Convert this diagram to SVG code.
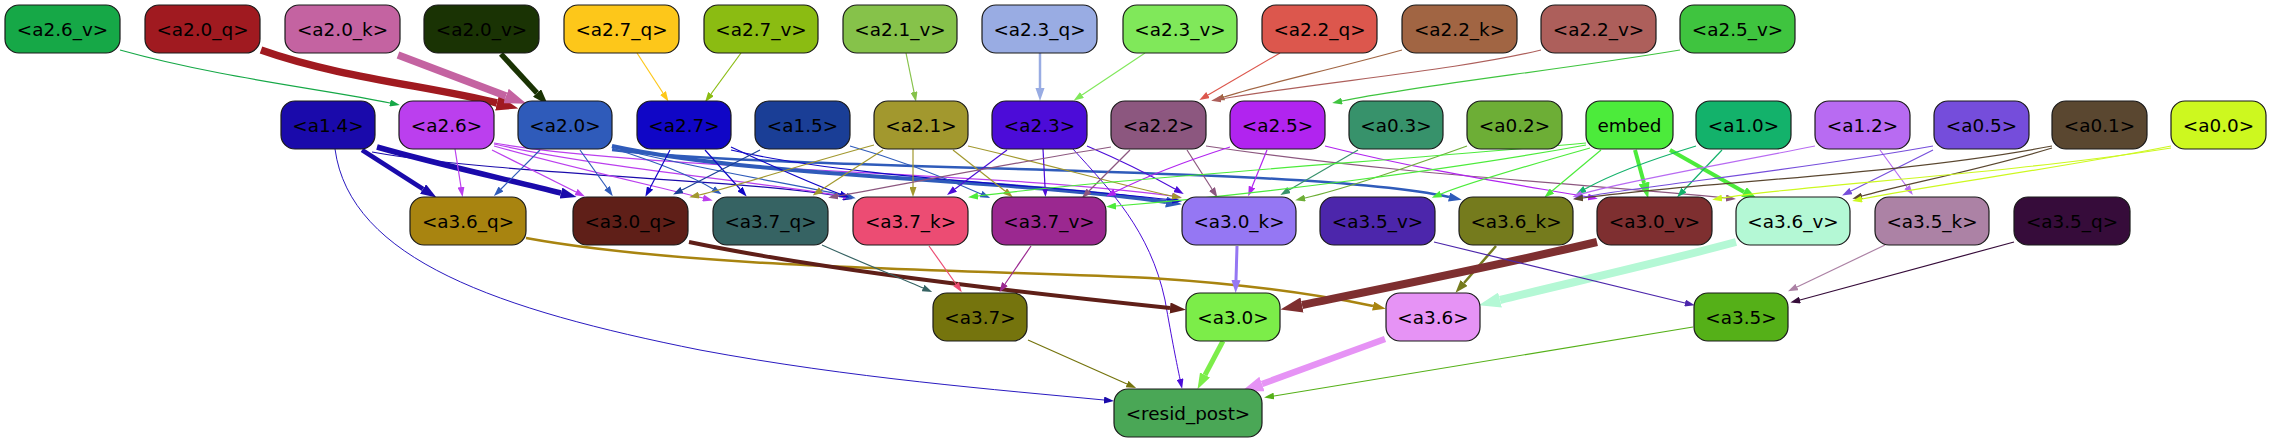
<svg xmlns="http://www.w3.org/2000/svg" width="2271" height="443" viewBox="0 0 2271 443">
<style>
.n rect{stroke:#1a1a1a;stroke-width:1.2}
.n text{font-family:"DejaVu Sans","Liberation Sans",sans-serif;font-size:18.4px;fill:#000;text-anchor:middle}
.e path{fill:none}
</style>
<defs>
<marker id="m1-16a847" viewBox="0 0 10 7" refX="0" refY="3.5" markerWidth="10" markerHeight="7" markerUnits="userSpaceOnUse" orient="auto"><path d="M0,0L10,3.5L0,7z" fill="#16a847"/></marker>
<marker id="m1-fdc71a" viewBox="0 0 10 7" refX="0" refY="3.5" markerWidth="10" markerHeight="7" markerUnits="userSpaceOnUse" orient="auto"><path d="M0,0L10,3.5L0,7z" fill="#fdc71a"/></marker>
<marker id="m1-8bbc12" viewBox="0 0 10 7" refX="0" refY="3.5" markerWidth="10" markerHeight="7" markerUnits="userSpaceOnUse" orient="auto"><path d="M0,0L10,3.5L0,7z" fill="#8bbc12"/></marker>
<marker id="m1-86c24a" viewBox="0 0 10 7" refX="0" refY="3.5" markerWidth="10" markerHeight="7" markerUnits="userSpaceOnUse" orient="auto"><path d="M0,0L10,3.5L0,7z" fill="#86c24a"/></marker>
<marker id="m1-80e85a" viewBox="0 0 10 7" refX="0" refY="3.5" markerWidth="10" markerHeight="7" markerUnits="userSpaceOnUse" orient="auto"><path d="M0,0L10,3.5L0,7z" fill="#80e85a"/></marker>
<marker id="m1-dc574d" viewBox="0 0 10 7" refX="0" refY="3.5" markerWidth="10" markerHeight="7" markerUnits="userSpaceOnUse" orient="auto"><path d="M0,0L10,3.5L0,7z" fill="#dc574d"/></marker>
<marker id="m1-a16543" viewBox="0 0 10 7" refX="0" refY="3.5" markerWidth="10" markerHeight="7" markerUnits="userSpaceOnUse" orient="auto"><path d="M0,0L10,3.5L0,7z" fill="#a16543"/></marker>
<marker id="m1-ad5f5b" viewBox="0 0 10 7" refX="0" refY="3.5" markerWidth="10" markerHeight="7" markerUnits="userSpaceOnUse" orient="auto"><path d="M0,0L10,3.5L0,7z" fill="#ad5f5b"/></marker>
<marker id="m1-3fc43f" viewBox="0 0 10 7" refX="0" refY="3.5" markerWidth="10" markerHeight="7" markerUnits="userSpaceOnUse" orient="auto"><path d="M0,0L10,3.5L0,7z" fill="#3fc43f"/></marker>
<marker id="m1-1a0aab" viewBox="0 0 10 7" refX="0" refY="3.5" markerWidth="10" markerHeight="7" markerUnits="userSpaceOnUse" orient="auto"><path d="M0,0L10,3.5L0,7z" fill="#1a0aab"/></marker>
<marker id="m1-bb3fee" viewBox="0 0 10 7" refX="0" refY="3.5" markerWidth="10" markerHeight="7" markerUnits="userSpaceOnUse" orient="auto"><path d="M0,0L10,3.5L0,7z" fill="#bb3fee"/></marker>
<marker id="m1-2f5bba" viewBox="0 0 10 7" refX="0" refY="3.5" markerWidth="10" markerHeight="7" markerUnits="userSpaceOnUse" orient="auto"><path d="M0,0L10,3.5L0,7z" fill="#2f5bba"/></marker>
<marker id="m1-1006c6" viewBox="0 0 10 7" refX="0" refY="3.5" markerWidth="10" markerHeight="7" markerUnits="userSpaceOnUse" orient="auto"><path d="M0,0L10,3.5L0,7z" fill="#1006c6"/></marker>
<marker id="m1-1a3e96" viewBox="0 0 10 7" refX="0" refY="3.5" markerWidth="10" markerHeight="7" markerUnits="userSpaceOnUse" orient="auto"><path d="M0,0L10,3.5L0,7z" fill="#1a3e96"/></marker>
<marker id="m1-a2982e" viewBox="0 0 10 7" refX="0" refY="3.5" markerWidth="10" markerHeight="7" markerUnits="userSpaceOnUse" orient="auto"><path d="M0,0L10,3.5L0,7z" fill="#a2982e"/></marker>
<marker id="m1-4c0cd8" viewBox="0 0 10 7" refX="0" refY="3.5" markerWidth="10" markerHeight="7" markerUnits="userSpaceOnUse" orient="auto"><path d="M0,0L10,3.5L0,7z" fill="#4c0cd8"/></marker>
<marker id="m1-8c577f" viewBox="0 0 10 7" refX="0" refY="3.5" markerWidth="10" markerHeight="7" markerUnits="userSpaceOnUse" orient="auto"><path d="M0,0L10,3.5L0,7z" fill="#8c577f"/></marker>
<marker id="m1-b124ef" viewBox="0 0 10 7" refX="0" refY="3.5" markerWidth="10" markerHeight="7" markerUnits="userSpaceOnUse" orient="auto"><path d="M0,0L10,3.5L0,7z" fill="#b124ef"/></marker>
<marker id="m1-37926b" viewBox="0 0 10 7" refX="0" refY="3.5" markerWidth="10" markerHeight="7" markerUnits="userSpaceOnUse" orient="auto"><path d="M0,0L10,3.5L0,7z" fill="#37926b"/></marker>
<marker id="m1-6dae36" viewBox="0 0 10 7" refX="0" refY="3.5" markerWidth="10" markerHeight="7" markerUnits="userSpaceOnUse" orient="auto"><path d="M0,0L10,3.5L0,7z" fill="#6dae36"/></marker>
<marker id="m1-4ceb3b" viewBox="0 0 10 7" refX="0" refY="3.5" markerWidth="10" markerHeight="7" markerUnits="userSpaceOnUse" orient="auto"><path d="M0,0L10,3.5L0,7z" fill="#4ceb3b"/></marker>
<marker id="m1-13b26b" viewBox="0 0 10 7" refX="0" refY="3.5" markerWidth="10" markerHeight="7" markerUnits="userSpaceOnUse" orient="auto"><path d="M0,0L10,3.5L0,7z" fill="#13b26b"/></marker>
<marker id="m1-b86bf2" viewBox="0 0 10 7" refX="0" refY="3.5" markerWidth="10" markerHeight="7" markerUnits="userSpaceOnUse" orient="auto"><path d="M0,0L10,3.5L0,7z" fill="#b86bf2"/></marker>
<marker id="m1-754ddb" viewBox="0 0 10 7" refX="0" refY="3.5" markerWidth="10" markerHeight="7" markerUnits="userSpaceOnUse" orient="auto"><path d="M0,0L10,3.5L0,7z" fill="#754ddb"/></marker>
<marker id="m1-5a4730" viewBox="0 0 10 7" refX="0" refY="3.5" markerWidth="10" markerHeight="7" markerUnits="userSpaceOnUse" orient="auto"><path d="M0,0L10,3.5L0,7z" fill="#5a4730"/></marker>
<marker id="m1-cdf81f" viewBox="0 0 10 7" refX="0" refY="3.5" markerWidth="10" markerHeight="7" markerUnits="userSpaceOnUse" orient="auto"><path d="M0,0L10,3.5L0,7z" fill="#cdf81f"/></marker>
<marker id="m1-366363" viewBox="0 0 10 7" refX="0" refY="3.5" markerWidth="10" markerHeight="7" markerUnits="userSpaceOnUse" orient="auto"><path d="M0,0L10,3.5L0,7z" fill="#366363"/></marker>
<marker id="m1-ec4c73" viewBox="0 0 10 7" refX="0" refY="3.5" markerWidth="10" markerHeight="7" markerUnits="userSpaceOnUse" orient="auto"><path d="M0,0L10,3.5L0,7z" fill="#ec4c73"/></marker>
<marker id="m1-9b2890" viewBox="0 0 10 7" refX="0" refY="3.5" markerWidth="10" markerHeight="7" markerUnits="userSpaceOnUse" orient="auto"><path d="M0,0L10,3.5L0,7z" fill="#9b2890"/></marker>
<marker id="m1-4c26ab" viewBox="0 0 10 7" refX="0" refY="3.5" markerWidth="10" markerHeight="7" markerUnits="userSpaceOnUse" orient="auto"><path d="M0,0L10,3.5L0,7z" fill="#4c26ab"/></marker>
<marker id="m1-ac82a5" viewBox="0 0 10 7" refX="0" refY="3.5" markerWidth="10" markerHeight="7" markerUnits="userSpaceOnUse" orient="auto"><path d="M0,0L10,3.5L0,7z" fill="#ac82a5"/></marker>
<marker id="m1-360c3a" viewBox="0 0 10 7" refX="0" refY="3.5" markerWidth="10" markerHeight="7" markerUnits="userSpaceOnUse" orient="auto"><path d="M0,0L10,3.5L0,7z" fill="#360c3a"/></marker>
<marker id="m1-75740d" viewBox="0 0 10 7" refX="0" refY="3.5" markerWidth="10" markerHeight="7" markerUnits="userSpaceOnUse" orient="auto"><path d="M0,0L10,3.5L0,7z" fill="#75740d"/></marker>
<marker id="m1-55b018" viewBox="0 0 10 7" refX="0" refY="3.5" markerWidth="10" markerHeight="7" markerUnits="userSpaceOnUse" orient="auto"><path d="M0,0L10,3.5L0,7z" fill="#55b018"/></marker>
<marker id="m2-99ace3" viewBox="0 0 10 7" refX="0" refY="3.5" markerWidth="13" markerHeight="9.1" markerUnits="userSpaceOnUse" orient="auto"><path d="M0,0L10,3.5L0,7z" fill="#99ace3"/></marker>
<marker id="m2-2f5bba" viewBox="0 0 10 7" refX="0" refY="3.5" markerWidth="13" markerHeight="9.1" markerUnits="userSpaceOnUse" orient="auto"><path d="M0,0L10,3.5L0,7z" fill="#2f5bba"/></marker>
<marker id="m2-a88410" viewBox="0 0 10 7" refX="0" refY="3.5" markerWidth="13" markerHeight="9.1" markerUnits="userSpaceOnUse" orient="auto"><path d="M0,0L10,3.5L0,7z" fill="#a88410"/></marker>
<marker id="m2-9577f3" viewBox="0 0 10 7" refX="0" refY="3.5" markerWidth="13" markerHeight="9.1" markerUnits="userSpaceOnUse" orient="auto"><path d="M0,0L10,3.5L0,7z" fill="#9577f3"/></marker>
<marker id="m2-757b1d" viewBox="0 0 10 7" refX="0" refY="3.5" markerWidth="13" markerHeight="9.1" markerUnits="userSpaceOnUse" orient="auto"><path d="M0,0L10,3.5L0,7z" fill="#757b1d"/></marker>
<marker id="m3-1a3304" viewBox="0 0 10 7" refX="0" refY="3.5" markerWidth="16" markerHeight="11.2" markerUnits="userSpaceOnUse" orient="auto"><path d="M0,0L10,3.5L0,7z" fill="#1a3304"/></marker>
<marker id="m3-1a0aab" viewBox="0 0 10 7" refX="0" refY="3.5" markerWidth="16" markerHeight="11.2" markerUnits="userSpaceOnUse" orient="auto"><path d="M0,0L10,3.5L0,7z" fill="#1a0aab"/></marker>
<marker id="m3-2f5bba" viewBox="0 0 10 7" refX="0" refY="3.5" markerWidth="16" markerHeight="11.2" markerUnits="userSpaceOnUse" orient="auto"><path d="M0,0L10,3.5L0,7z" fill="#2f5bba"/></marker>
<marker id="m3-4ceb3b" viewBox="0 0 10 7" refX="0" refY="3.5" markerWidth="16" markerHeight="11.2" markerUnits="userSpaceOnUse" orient="auto"><path d="M0,0L10,3.5L0,7z" fill="#4ceb3b"/></marker>
<marker id="m3-5f1f18" viewBox="0 0 10 7" refX="0" refY="3.5" markerWidth="16" markerHeight="11.2" markerUnits="userSpaceOnUse" orient="auto"><path d="M0,0L10,3.5L0,7z" fill="#5f1f18"/></marker>
<marker id="m3-7ced49" viewBox="0 0 10 7" refX="0" refY="3.5" markerWidth="16" markerHeight="11.2" markerUnits="userSpaceOnUse" orient="auto"><path d="M0,0L10,3.5L0,7z" fill="#7ced49"/></marker>
<marker id="m4-a01a20" viewBox="0 0 10 7" refX="0" refY="3.5" markerWidth="22" markerHeight="15.4" markerUnits="userSpaceOnUse" orient="auto"><path d="M0,0L10,3.5L0,7z" fill="#a01a20"/></marker>
<marker id="m4-c463a1" viewBox="0 0 10 7" refX="0" refY="3.5" markerWidth="22" markerHeight="15.4" markerUnits="userSpaceOnUse" orient="auto"><path d="M0,0L10,3.5L0,7z" fill="#c463a1"/></marker>
<marker id="m4-7e2f30" viewBox="0 0 10 7" refX="0" refY="3.5" markerWidth="22" markerHeight="15.4" markerUnits="userSpaceOnUse" orient="auto"><path d="M0,0L10,3.5L0,7z" fill="#7e2f30"/></marker>
<marker id="m4-b4f8d5" viewBox="0 0 10 7" refX="0" refY="3.5" markerWidth="22" markerHeight="15.4" markerUnits="userSpaceOnUse" orient="auto"><path d="M0,0L10,3.5L0,7z" fill="#b4f8d5"/></marker>
<marker id="m4-e693f5" viewBox="0 0 10 7" refX="0" refY="3.5" markerWidth="22" markerHeight="15.4" markerUnits="userSpaceOnUse" orient="auto"><path d="M0,0L10,3.5L0,7z" fill="#e693f5"/></marker>
</defs>
<g id="edges" class="e">
<path d="M120,50 C220,78 330,90 390,103" stroke="#16a847" stroke-width="1.2" marker-end="url(#m1-16a847)"/>
<path d="M261,50 C340,78 430,86 497,103" stroke="#a01a20" stroke-width="7.5" marker-end="url(#m4-a01a20)"/>
<path d="M398,55 L506,96" stroke="#c463a1" stroke-width="7.5" marker-end="url(#m4-c463a1)"/>
<path d="M501,54 L537,93" stroke="#1a3304" stroke-width="5.5" marker-end="url(#m3-1a3304)"/>
<path d="M637,53 L663,93" stroke="#fdc71a" stroke-width="1.2" marker-end="url(#m1-fdc71a)"/>
<path d="M741,53 L711,94" stroke="#8bbc12" stroke-width="1.2" marker-end="url(#m1-8bbc12)"/>
<path d="M906,53 L914,92" stroke="#86c24a" stroke-width="1.2" marker-end="url(#m1-86c24a)"/>
<path d="M1040,53 L1040,88" stroke="#99ace3" stroke-width="2.5" marker-end="url(#m2-99ace3)"/>
<path d="M1145,53 L1082,95" stroke="#80e85a" stroke-width="1.2" marker-end="url(#m1-80e85a)"/>
<path d="M1280,53 L1208,95" stroke="#dc574d" stroke-width="1.2" marker-end="url(#m1-dc574d)"/>
<path d="M1402,50 C1330,70 1260,85 1224,97" stroke="#a16543" stroke-width="1.2" marker-end="url(#m1-a16543)"/>
<path d="M1541,50 C1460,70 1320,82 1221,99" stroke="#ad5f5b" stroke-width="1.2" marker-end="url(#m1-ad5f5b)"/>
<path d="M1680,50 C1560,70 1420,85 1342,101" stroke="#3fc43f" stroke-width="1.2" marker-end="url(#m1-3fc43f)"/>
<path d="M362,150 L423,189" stroke="#1a0aab" stroke-width="4.5" marker-end="url(#m3-1a0aab)"/>
<path d="M377,147 C440,165 510,180 561,193" stroke="#1a0aab" stroke-width="5.5" marker-end="url(#m3-1a0aab)"/>
<path d="M372,152 C500,175 760,180 843,197" stroke="#1a0aab" stroke-width="1.2" marker-end="url(#m1-1a0aab)"/>
<path d="M335,149 C350,260 500,310 700,350 C850,378 1000,390 1104,400" stroke="#2a1ac0" stroke-width="1" marker-end="url(#m1-1a0aab)"/>
<path d="M455,149 L461,187" stroke="#bb3fee" stroke-width="1.2" marker-end="url(#m1-bb3fee)"/>
<path d="M492,150 L576,192" stroke="#bb3fee" stroke-width="1.2" marker-end="url(#m1-bb3fee)"/>
<path d="M494,146 C560,165 650,185 703,198" stroke="#bb3fee" stroke-width="1.2" marker-end="url(#m1-bb3fee)"/>
<path d="M494,144 C600,168 760,182 843,196" stroke="#bb3fee" stroke-width="1.2" marker-end="url(#m1-bb3fee)"/>
<path d="M494,143 C650,170 1000,172 1172,196" stroke="#bb3fee" stroke-width="1.2" marker-end="url(#m1-bb3fee)"/>
<path d="M540,150 L501,189" stroke="#2f5bba" stroke-width="1.2" marker-end="url(#m1-2f5bba)"/>
<path d="M580,150 L607,188" stroke="#2f5bba" stroke-width="1.2" marker-end="url(#m1-2f5bba)"/>
<path d="M612,148 C650,160 690,175 713,189" stroke="#2f5bba" stroke-width="1.2" marker-end="url(#m1-2f5bba)"/>
<path d="M612,147 C700,170 800,185 846,196" stroke="#2f5bba" stroke-width="1.2" marker-end="url(#m1-2f5bba)"/>
<path d="M612,146 C760,178 1000,178 1166,202" stroke="#2f5bba" stroke-width="4" marker-end="url(#m3-2f5bba)"/>
<path d="M612,150 C800,172 1300,165 1449,197" stroke="#2f5bba" stroke-width="2.5" marker-end="url(#m2-2f5bba)"/>
<path d="M670,150 L650,188" stroke="#1006c6" stroke-width="1.2" marker-end="url(#m1-1006c6)"/>
<path d="M705,150 L740,189" stroke="#1006c6" stroke-width="1.2" marker-end="url(#m1-1006c6)"/>
<path d="M731,147 C770,165 815,185 840,194" stroke="#1006c6" stroke-width="1.2" marker-end="url(#m1-1006c6)"/>
<path d="M731,150 C850,178 1050,185 1172,200" stroke="#1006c6" stroke-width="1.2" marker-end="url(#m1-1006c6)"/>
<path d="M760,150 L682,190" stroke="#1a3e96" stroke-width="1.2" marker-end="url(#m1-1a3e96)"/>
<path d="M850,146 C900,160 950,180 981,194" stroke="#2f5bba" stroke-width="1.2" marker-end="url(#m1-2f5bba)"/>
<path d="M874,145 C800,165 740,185 699,195" stroke="#a2982e" stroke-width="1.2" marker-end="url(#m1-a2982e)"/>
<path d="M883,150 L821,190" stroke="#a2982e" stroke-width="1.2" marker-end="url(#m1-a2982e)"/>
<path d="M913,149 L913,187" stroke="#a2982e" stroke-width="1.2" marker-end="url(#m1-a2982e)"/>
<path d="M953,150 L1005,191" stroke="#a2982e" stroke-width="1.2" marker-end="url(#m1-a2982e)"/>
<path d="M968,146 C1050,165 1120,185 1172,196" stroke="#a2982e" stroke-width="1.2" marker-end="url(#m1-a2982e)"/>
<path d="M1007,150 L955,189" stroke="#4c0cd8" stroke-width="1.2" marker-end="url(#m1-4c0cd8)"/>
<path d="M1043,149 L1045,187" stroke="#4c0cd8" stroke-width="1.2" marker-end="url(#m1-4c0cd8)"/>
<path d="M1087,146 C1120,160 1150,175 1175,189" stroke="#4c0cd8" stroke-width="1.2" marker-end="url(#m1-4c0cd8)"/>
<path d="M1073,149 C1110,190 1150,230 1165,300 C1172,340 1177,365 1180,379" stroke="#4c0cd8" stroke-width="1" marker-end="url(#m1-4c0cd8)"/>
<path d="M1111,147 C1000,165 900,185 838,196" stroke="#8c577f" stroke-width="1.2" marker-end="url(#m1-8c577f)"/>
<path d="M1130,150 L1089,191" stroke="#8c577f" stroke-width="1.2" marker-end="url(#m1-8c577f)"/>
<path d="M1187,150 L1212,189" stroke="#8c577f" stroke-width="1.2" marker-end="url(#m1-8c577f)"/>
<path d="M1206,146 C1400,175 1600,185 1726,198" stroke="#8c577f" stroke-width="1.2" marker-end="url(#m1-8c577f)"/>
<path d="M1267,150 L1252,187" stroke="#b124ef" stroke-width="1.2" marker-end="url(#m1-b124ef)"/>
<path d="M1230,147 C1180,163 1145,177 1115,192" stroke="#b124ef" stroke-width="1.2" marker-end="url(#m1-b124ef)"/>
<path d="M1325,146 C1420,170 1520,185 1588,197" stroke="#b124ef" stroke-width="1.2" marker-end="url(#m1-b124ef)"/>
<path d="M1358,150 L1289,190" stroke="#37926b" stroke-width="1.2" marker-end="url(#m1-37926b)"/>
<path d="M1467,146 C1400,170 1340,190 1305,198" stroke="#6dae36" stroke-width="1.2" marker-end="url(#m1-6dae36)"/>
<path d="M1590,148 C1530,165 1470,182 1441,194" stroke="#4ceb3b" stroke-width="1.2" marker-end="url(#m1-4ceb3b)"/>
<path d="M1601,150 L1552,191" stroke="#4ceb3b" stroke-width="1.2" marker-end="url(#m1-4ceb3b)"/>
<path d="M1635,150 L1644,183" stroke="#4ceb3b" stroke-width="4" marker-end="url(#m3-4ceb3b)"/>
<path d="M1670,150 L1744,192" stroke="#4ceb3b" stroke-width="4" marker-end="url(#m3-4ceb3b)"/>
<path d="M1586,145 C1450,170 1250,195 1116,206" stroke="#4ceb3b" stroke-width="1.2" marker-end="url(#m1-4ceb3b)"/>
<path d="M1586,143 C1400,160 1100,180 978,196" stroke="#4ceb3b" stroke-width="1.2" marker-end="url(#m1-4ceb3b)"/>
<path d="M1722,150 L1684,190" stroke="#13b26b" stroke-width="1.2" marker-end="url(#m1-13b26b)"/>
<path d="M1696,146 C1650,160 1610,175 1585,189" stroke="#13b26b" stroke-width="1.2" marker-end="url(#m1-13b26b)"/>
<path d="M1880,150 L1907,187" stroke="#b86bf2" stroke-width="1.2" marker-end="url(#m1-b86bf2)"/>
<path d="M1815,146 C1720,165 1620,182 1582,194" stroke="#b86bf2" stroke-width="1.2" marker-end="url(#m1-b86bf2)"/>
<path d="M1933,150 L1851,191" stroke="#754ddb" stroke-width="1.2" marker-end="url(#m1-754ddb)"/>
<path d="M1933,146 C1800,170 1650,185 1583,197" stroke="#754ddb" stroke-width="1.2" marker-end="url(#m1-754ddb)"/>
<path d="M2052,148 C1980,170 1900,185 1862,196" stroke="#5a4730" stroke-width="1.2" marker-end="url(#m1-5a4730)"/>
<path d="M2052,146 C1900,175 1700,182 1583,198" stroke="#5a4730" stroke-width="1.2" marker-end="url(#m1-5a4730)"/>
<path d="M2171,146 C2050,170 1930,185 1862,199" stroke="#cdf81f" stroke-width="1.2" marker-end="url(#m1-cdf81f)"/>
<path d="M2171,148 C2000,175 1800,185 1722,198" stroke="#cdf81f" stroke-width="1.2" marker-end="url(#m1-cdf81f)"/>
<path d="M526,238 C700,270 1000,270 1150,278 C1260,285 1330,297 1373,306" stroke="#a88410" stroke-width="2.5" marker-end="url(#m2-a88410)"/>
<path d="M689,242 C800,265 950,285 1170,308" stroke="#5f1f18" stroke-width="4" marker-end="url(#m3-5f1f18)"/>
<path d="M822,245 C860,262 900,278 923,288" stroke="#366363" stroke-width="1.2" marker-end="url(#m1-366363)"/>
<path d="M929,246 L956,284" stroke="#ec4c73" stroke-width="1.2" marker-end="url(#m1-ec4c73)"/>
<path d="M1031,246 L1005,284" stroke="#9b2890" stroke-width="1.2" marker-end="url(#m1-9b2890)"/>
<path d="M1237,246 L1236,280" stroke="#9577f3" stroke-width="3" marker-end="url(#m2-9577f3)"/>
<path d="M1496,246 L1464,283" stroke="#757b1d" stroke-width="2.5" marker-end="url(#m2-757b1d)"/>
<path d="M1597,242 C1500,265 1400,285 1302,305" stroke="#7e2f30" stroke-width="8" marker-end="url(#m4-7e2f30)"/>
<path d="M1736,242 C1650,265 1560,285 1500,300" stroke="#b4f8d5" stroke-width="8" marker-end="url(#m4-b4f8d5)"/>
<path d="M1434,242 C1530,265 1620,288 1685,303" stroke="#4c26ab" stroke-width="1.2" marker-end="url(#m1-4c26ab)"/>
<path d="M1885,245 L1797,287" stroke="#ac82a5" stroke-width="1.2" marker-end="url(#m1-ac82a5)"/>
<path d="M2014,242 L1800,300" stroke="#360c3a" stroke-width="1.2" marker-end="url(#m1-360c3a)"/>
<path d="M1028,340 L1127,384" stroke="#75740d" stroke-width="1.2" marker-end="url(#m1-75740d)"/>
<path d="M1223,341 L1205,375" stroke="#7ced49" stroke-width="5" marker-end="url(#m3-7ced49)"/>
<path d="M1385,339 L1262,384" stroke="#e693f5" stroke-width="6.5" marker-end="url(#m4-e693f5)"/>
<path d="M1693,327 L1274,396" stroke="#55b018" stroke-width="1.2" marker-end="url(#m1-55b018)"/>
</g>
<g id="n-a2_6_v" class="n"><rect x="5" y="5" width="115" height="48" rx="14" fill="#16a847"/><text x="62.5" y="35.5">&lt;a2.6_v&gt;</text></g>
<g id="n-a2_0_q" class="n"><rect x="145" y="5" width="115" height="48" rx="14" fill="#a01a20"/><text x="202.5" y="35.5">&lt;a2.0_q&gt;</text></g>
<g id="n-a2_0_k" class="n"><rect x="285" y="5" width="115" height="48" rx="14" fill="#c463a1"/><text x="342.5" y="35.5">&lt;a2.0_k&gt;</text></g>
<g id="n-a2_0_v" class="n"><rect x="424" y="5" width="115" height="48" rx="14" fill="#1a3304"/><text x="481.5" y="35.5">&lt;a2.0_v&gt;</text></g>
<g id="n-a2_7_q" class="n"><rect x="564" y="5" width="115" height="48" rx="14" fill="#fdc71a"/><text x="621.5" y="35.5">&lt;a2.7_q&gt;</text></g>
<g id="n-a2_7_v" class="n"><rect x="704" y="5" width="114" height="48" rx="14" fill="#8bbc12"/><text x="761" y="35.5">&lt;a2.7_v&gt;</text></g>
<g id="n-a2_1_v" class="n"><rect x="843" y="5" width="114" height="48" rx="14" fill="#86c24a"/><text x="900" y="35.5">&lt;a2.1_v&gt;</text></g>
<g id="n-a2_3_q" class="n"><rect x="982" y="5" width="115" height="48" rx="14" fill="#99ace3"/><text x="1039.5" y="35.5">&lt;a2.3_q&gt;</text></g>
<g id="n-a2_3_v" class="n"><rect x="1123" y="5" width="114" height="48" rx="14" fill="#80e85a"/><text x="1180" y="35.5">&lt;a2.3_v&gt;</text></g>
<g id="n-a2_2_q" class="n"><rect x="1262" y="5" width="115" height="48" rx="14" fill="#dc574d"/><text x="1319.5" y="35.5">&lt;a2.2_q&gt;</text></g>
<g id="n-a2_2_k" class="n"><rect x="1402" y="5" width="115" height="48" rx="14" fill="#a16543"/><text x="1459.5" y="35.5">&lt;a2.2_k&gt;</text></g>
<g id="n-a2_2_v" class="n"><rect x="1541" y="5" width="115" height="48" rx="14" fill="#ad5f5b"/><text x="1598.5" y="35.5">&lt;a2.2_v&gt;</text></g>
<g id="n-a2_5_v" class="n"><rect x="1680" y="5" width="115" height="48" rx="14" fill="#3fc43f"/><text x="1737.5" y="35.5">&lt;a2.5_v&gt;</text></g>
<g id="n-a1_4" class="n"><rect x="281" y="101" width="94" height="48" rx="14" fill="#1a0aab"/><text x="328" y="131.5">&lt;a1.4&gt;</text></g>
<g id="n-a2_6" class="n"><rect x="399" y="101" width="95" height="48" rx="14" fill="#bb3fee"/><text x="446.5" y="131.5">&lt;a2.6&gt;</text></g>
<g id="n-a2_0" class="n"><rect x="518" y="101" width="94" height="48" rx="14" fill="#2f5bba"/><text x="565" y="131.5">&lt;a2.0&gt;</text></g>
<g id="n-a2_7" class="n"><rect x="637" y="101" width="94" height="48" rx="14" fill="#1006c6"/><text x="684" y="131.5">&lt;a2.7&gt;</text></g>
<g id="n-a1_5" class="n"><rect x="755" y="101" width="95" height="48" rx="14" fill="#1a3e96"/><text x="802.5" y="131.5">&lt;a1.5&gt;</text></g>
<g id="n-a2_1" class="n"><rect x="874" y="101" width="94" height="48" rx="14" fill="#a2982e"/><text x="921" y="131.5">&lt;a2.1&gt;</text></g>
<g id="n-a2_3" class="n"><rect x="992" y="101" width="95" height="48" rx="14" fill="#4c0cd8"/><text x="1039.5" y="131.5">&lt;a2.3&gt;</text></g>
<g id="n-a2_2" class="n"><rect x="1111" y="101" width="95" height="48" rx="14" fill="#8c577f"/><text x="1158.5" y="131.5">&lt;a2.2&gt;</text></g>
<g id="n-a2_5" class="n"><rect x="1230" y="101" width="95" height="48" rx="14" fill="#b124ef"/><text x="1277.5" y="131.5">&lt;a2.5&gt;</text></g>
<g id="n-a0_3" class="n"><rect x="1349" y="101" width="94" height="48" rx="14" fill="#37926b"/><text x="1396" y="131.5">&lt;a0.3&gt;</text></g>
<g id="n-a0_2" class="n"><rect x="1467" y="101" width="95" height="48" rx="14" fill="#6dae36"/><text x="1514.5" y="131.5">&lt;a0.2&gt;</text></g>
<g id="n-embed" class="n"><rect x="1586" y="101" width="87" height="48" rx="14" fill="#4ceb3b"/><text x="1629.5" y="131.5">embed</text></g>
<g id="n-a1_0" class="n"><rect x="1696" y="101" width="95" height="48" rx="14" fill="#13b26b"/><text x="1743.5" y="131.5">&lt;a1.0&gt;</text></g>
<g id="n-a1_2" class="n"><rect x="1815" y="101" width="95" height="48" rx="14" fill="#b86bf2"/><text x="1862.5" y="131.5">&lt;a1.2&gt;</text></g>
<g id="n-a0_5" class="n"><rect x="1934" y="101" width="95" height="48" rx="14" fill="#754ddb"/><text x="1981.5" y="131.5">&lt;a0.5&gt;</text></g>
<g id="n-a0_1" class="n"><rect x="2052" y="101" width="95" height="48" rx="14" fill="#5a4730"/><text x="2099.5" y="131.5">&lt;a0.1&gt;</text></g>
<g id="n-a0_0" class="n"><rect x="2171" y="101" width="95" height="48" rx="14" fill="#cdf81f"/><text x="2218.5" y="131.5">&lt;a0.0&gt;</text></g>
<g id="n-a3_6_q" class="n"><rect x="410" y="197" width="116" height="48" rx="14" fill="#a88410"/><text x="468" y="227.5">&lt;a3.6_q&gt;</text></g>
<g id="n-a3_0_q" class="n"><rect x="573" y="197" width="115" height="48" rx="14" fill="#5f1f18"/><text x="630.5" y="227.5">&lt;a3.0_q&gt;</text></g>
<g id="n-a3_7_q" class="n"><rect x="713" y="197" width="115" height="48" rx="14" fill="#366363"/><text x="770.5" y="227.5">&lt;a3.7_q&gt;</text></g>
<g id="n-a3_7_k" class="n"><rect x="853" y="197" width="115" height="48" rx="14" fill="#ec4c73"/><text x="910.5" y="227.5">&lt;a3.7_k&gt;</text></g>
<g id="n-a3_7_v" class="n"><rect x="992" y="197" width="114" height="48" rx="14" fill="#9b2890"/><text x="1049" y="227.5">&lt;a3.7_v&gt;</text></g>
<g id="n-a3_0_k" class="n"><rect x="1182" y="197" width="114" height="48" rx="14" fill="#9577f3"/><text x="1239" y="227.5">&lt;a3.0_k&gt;</text></g>
<g id="n-a3_5_v" class="n"><rect x="1320" y="197" width="115" height="48" rx="14" fill="#4c26ab"/><text x="1377.5" y="227.5">&lt;a3.5_v&gt;</text></g>
<g id="n-a3_6_k" class="n"><rect x="1459" y="197" width="114" height="48" rx="14" fill="#757b1d"/><text x="1516" y="227.5">&lt;a3.6_k&gt;</text></g>
<g id="n-a3_0_v" class="n"><rect x="1597" y="197" width="115" height="48" rx="14" fill="#7e2f30"/><text x="1654.5" y="227.5">&lt;a3.0_v&gt;</text></g>
<g id="n-a3_6_v" class="n"><rect x="1736" y="197" width="114" height="48" rx="14" fill="#b4f8d5"/><text x="1793" y="227.5">&lt;a3.6_v&gt;</text></g>
<g id="n-a3_5_k" class="n"><rect x="1875" y="197" width="114" height="48" rx="14" fill="#ac82a5"/><text x="1932" y="227.5">&lt;a3.5_k&gt;</text></g>
<g id="n-a3_5_q" class="n"><rect x="2014" y="197" width="116" height="48" rx="14" fill="#360c3a"/><text x="2072" y="227.5">&lt;a3.5_q&gt;</text></g>
<g id="n-a3_7" class="n"><rect x="933" y="293" width="94" height="48" rx="14" fill="#75740d"/><text x="980" y="323.5">&lt;a3.7&gt;</text></g>
<g id="n-a3_0" class="n"><rect x="1186" y="293" width="94" height="48" rx="14" fill="#7ced49"/><text x="1233" y="323.5">&lt;a3.0&gt;</text></g>
<g id="n-a3_6" class="n"><rect x="1386" y="293" width="94" height="48" rx="14" fill="#e693f5"/><text x="1433" y="323.5">&lt;a3.6&gt;</text></g>
<g id="n-a3_5" class="n"><rect x="1694" y="293" width="94" height="48" rx="14" fill="#55b018"/><text x="1741" y="323.5">&lt;a3.5&gt;</text></g>
<g id="n-resid_post" class="n"><rect x="1114" y="389" width="148" height="48" rx="14" fill="#4aa756"/><text x="1188" y="419.5">&lt;resid_post&gt;</text></g>
</svg>
